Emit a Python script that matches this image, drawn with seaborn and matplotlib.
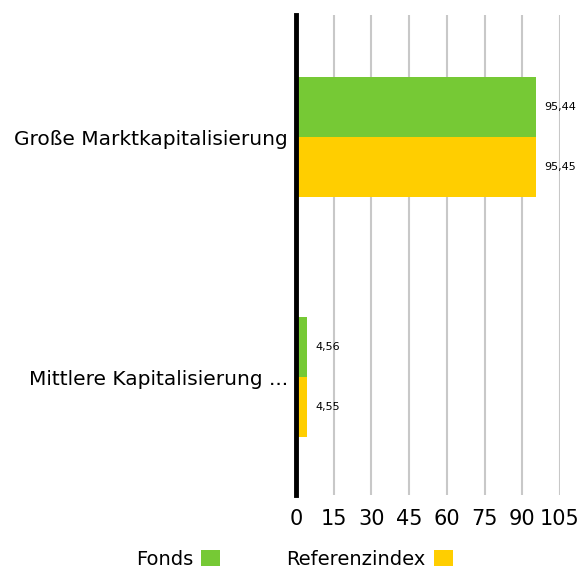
import seaborn as sns
import matplotlib.pyplot as plt
import pandas as pd
from matplotlib.patches import Patch

# Data
categories = ["Große Marktkapitalisierung", "Mittlere Kapitalisierung ..."]
fonds = [95.44, 4.56]
referenz = [95.45, 4.55]
series = ["Fonds", "Referenzindex"]
colors = ["#76C935", "#FFCE00"]
x_ticks = [0, 15, 30, 45, 60, 75, 90, 105]

df = pd.DataFrame({
    "Kategorie": categories * 2,
    "Wert": fonds + referenz,
    "Serie": [series[0]] * len(categories) + [series[1]] * len(categories),
})

sns.set_style("white")
plt.rcParams["font.family"] = ["DejaVu Sans"]
plt.rcParams["text.color"] = "black"
plt.rcParams["xtick.labelcolor"] = "black"
plt.rcParams["ytick.labelcolor"] = "black"

fig = plt.figure(figsize=(5.82, 5.74), dpi=100)
ax = fig.add_axes([0.5086, 0.1376, 0.4536, 0.8363])

sns.barplot(
    data=df, x="Wert", y="Kategorie", hue="Serie", orient="h",
    palette=colors, width=0.5, saturation=1, legend=False, ax=ax,
    linewidth=0, edgecolor="none",
)

for cont in ax.containers:
    ax.bar_label(cont, labels=[f"{v:.2f}".replace(".", ",") for v in cont.datavalues],
                 padding=6, fontsize=8, color="black")

ax.set_xlim(0, 105)
ax.set_ylim(1.49, -0.51)
ax.set_xticks(x_ticks)
ax.set_xticklabels([str(t) for t in x_ticks], fontsize=15)
ax.tick_params(axis="y", labelsize=14.5, length=0, pad=6)
ax.tick_params(axis="x", length=6, color="#C8C8C8", width=1.5, pad=4)
ax.set_xlabel("")
ax.set_ylabel("")
ax.grid(axis="x", color="#C8C8C8", linewidth=1.5)
ax.set_axisbelow(True)
for s in ["top", "right", "bottom"]:
    ax.spines[s].set_visible(False)
ax.spines["left"].set_color("black")
ax.spines["left"].set_linewidth(3.5)
ax.spines["left"].set_zorder(5)

handles = [Patch(facecolor=c, edgecolor="none") for c in colors]
fig.legend(handles, series, loc="center", bbox_to_anchor=(0.506, 0.026),
           ncol=2, frameon=False, markerfirst=False, fontsize=14,
           handlelength=1.0, handleheight=0.95, handletextpad=0.4,
           columnspacing=3.4, borderpad=0)

fig.savefig("out.png", dpi=100)
